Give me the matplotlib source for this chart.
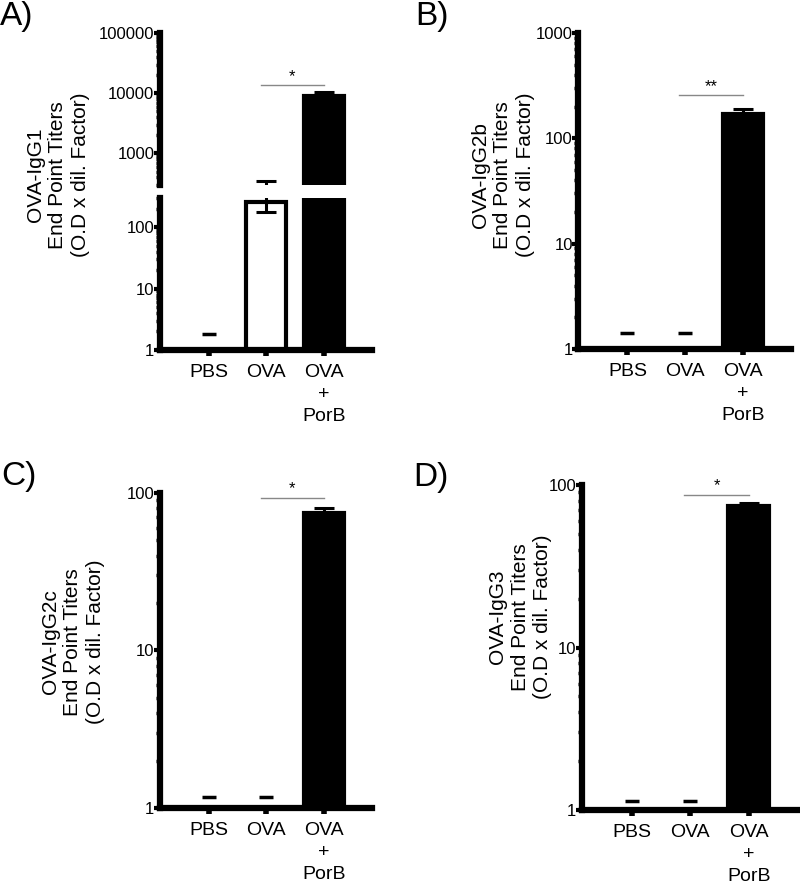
import numpy as np
import matplotlib.pyplot as plt
from matplotlib.ticker import LogLocator, NullFormatter, FixedLocator, FixedFormatter

plt.rcParams['font.family'] = ['Liberation Sans', 'DejaVu Sans']

# data (end point titers, mean and SEM)
groups = ['PBS', 'OVA', 'OVA\n+\nPorB']
igg1_mean = [1.8, 260, 9000]
igg1_sem = [0, 85, 1500]
igg2b_mean = [1.42, 1.42, 170]
igg2b_sem = [0, 0, 19]
igg2c_mean = [1.17, 1.18, 75]
igg2c_sem = [0, 0, 5.5]
igg3_mean = [1.14, 1.14, 74]
igg3_sem = [0, 0, 3.5]

bar_fill = ['white', 'white', 'black']
sig_labels = ['*', '**', '*', '*']
sig_heights = [14000, 257, 93, 87]
ylabels = ['OVA-IgG1', 'OVA-IgG2b', 'OVA-IgG2c', 'OVA-IgG3']

x = np.arange(len(groups))


def style_axis(ax, ylim, ticks, bottom=True):
    ax.set_yscale('log')
    ax.set_ylim(*ylim)
    ax.set_xlim(-0.85, 2.84)
    for s in ['top', 'right']:
        ax.spines[s].set_visible(False)
    ax.spines['left'].set_linewidth(4.5)
    ax.spines['bottom'].set_linewidth(4.5)
    ax.yaxis.set_major_locator(FixedLocator(ticks))
    ax.yaxis.set_major_formatter(FixedFormatter([str(t) for t in ticks]))
    ax.yaxis.set_minor_locator(LogLocator(base=10, subs=np.arange(2, 10)))
    ax.yaxis.set_minor_formatter(NullFormatter())
    ax.tick_params(axis='y', which='major', length=4, width=3, pad=0, labelsize=12)
    ax.tick_params(axis='y', which='minor', length=3, width=2.5)
    if bottom:
        ax.set_xticks(x)
        ax.set_xticklabels(groups, fontsize=14, linespacing=1.4)
        ax.tick_params(axis='x', length=4, width=4, pad=6)
    else:
        ax.spines['bottom'].set_visible(False)
        ax.set_xticks([])


def draw_bars(ax, mean, sem):
    for i in range(len(groups)):
        if mean[i] >= 10:
            ax.bar(x[i], mean[i], width=0.7, color=bar_fill[i],
                   edgecolor='black', linewidth=3, zorder=2)
            ax.errorbar(x[i], mean[i], yerr=sem[i], fmt='none', ecolor='black',
                        elinewidth=2.2, capsize=7, capthick=2.2, zorder=3)
        else:
            ax.plot(x[i], mean[i], marker='_', ms=10, mew=2.5,
                    color='black', zorder=3)


def draw_sig(ax, label, h):
    ax.plot([x[1] - 0.1, x[2]], [h, h], color='#888888', lw=1)
    ax.text((x[1] - 0.1 + x[2]) / 2, h * 1.02, label, ha='center',
            va='bottom', fontsize=12)


fig = plt.figure(figsize=(8, 8.88), dpi=100)

# A) broken log axis
axA_lo = fig.add_axes([0.2, 0.606, 0.265, 0.171])
axA_hi = fig.add_axes([0.2, 0.7917, 0.265, 0.171])
style_axis(axA_lo, (1, 300), [1, 10, 100])
style_axis(axA_hi, (300, 100000), [1000, 10000, 100000], bottom=False)
draw_bars(axA_lo, igg1_mean, igg1_sem)
draw_bars(axA_hi, igg1_mean, igg1_sem)
draw_sig(axA_hi, sig_labels[0], sig_heights[0])

# B)
axB = fig.add_axes([0.723, 0.607, 0.266, 0.356])
style_axis(axB, (1, 1000), [1, 10, 100, 1000])
draw_bars(axB, igg2b_mean, igg2b_sem)
draw_sig(axB, sig_labels[1], sig_heights[1])

# C)
axC = fig.add_axes([0.2, 0.090, 0.265, 0.355])
style_axis(axC, (1, 100), [1, 10, 100])
draw_bars(axC, igg2c_mean, igg2c_sem)
draw_sig(axC, sig_labels[2], sig_heights[2])

# D)
axD = fig.add_axes([0.7275, 0.0878, 0.27, 0.366])
style_axis(axD, (1, 100), [1, 10, 100])
draw_bars(axD, igg3_mean, igg3_sem)
draw_sig(axD, sig_labels[3], sig_heights[3])

# y labels
label_pos = [(58, 175), (503, 175), (73, 642), (520, 617)]
for lab, (px, py) in zip(ylabels, label_pos):
    fig.text(px / 800, 1 - py / 888,
             lab + '\nEnd Point Titers\n(O.D x dil. Factor)',
             rotation=90, ha='center', va='center', multialignment='center',
             fontsize=15, linespacing=1.25)

# panel letters
for let, (px, py) in zip(['A)', 'B)', 'C)', 'D)'],
                         [(0, 16), (415, 16), (1, 476), (413, 477)]):
    fig.text(px / 800, 1 - py / 888, let, ha='left', va='center', fontsize=24)

fig.savefig('out.png', dpi=100)
